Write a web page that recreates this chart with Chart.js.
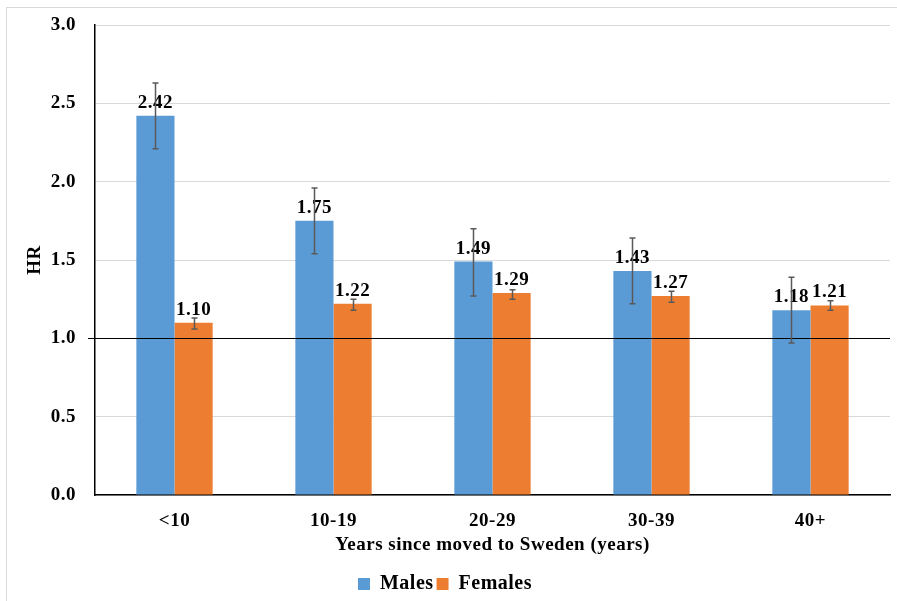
<!DOCTYPE html>
<html><head><meta charset="utf-8">
<script src="https://cdn.jsdelivr.net/npm/chart.js@4"></script>
<style>html,body{margin:0;padding:0;background:#fff}#wrap{width:897px;height:601px}</style>
</head><body><div id="wrap"><canvas id="c" width="897" height="601"></canvas></div>
<script>
const categories = ['<10', '10-19', '20-29', '30-39', '40+'];
const males = [2.42, 1.75, 1.49, 1.43, 1.18];
const females = [1.10, 1.22, 1.29, 1.27, 1.21];
const malesLow = [2.21, 1.54, 1.27, 1.22, 0.97];
const malesHigh = [2.63, 1.96, 1.70, 1.64, 1.39];
const femalesLow = [1.06, 1.18, 1.25, 1.23, 1.18];
const femalesHigh = [1.13, 1.25, 1.31, 1.30, 1.24];
const yTicks = [0, 0.5, 1.0, 1.5, 2.0, 2.5, 3.0];
const referenceValue = 1.0;

const FONT = "'Liberation Serif', 'Times New Roman', serif";
const SPACING = '0.5px';
const errs = [[malesLow, malesHigh], [femalesLow, femalesHigh]];

const extras = {
  id: 'extras',
  beforeUpdate(chart) { chart.ctx.letterSpacing = SPACING; },
  beforeLayout(chart) { chart.ctx.letterSpacing = SPACING; },
  beforeDraw(chart) {
    const ctx = chart.ctx;
    ctx.letterSpacing = SPACING;
    ctx.save();
    ctx.strokeStyle = '#d9d9d9';
    ctx.lineWidth = 1;
    ctx.strokeRect(6.5, 7.5, 2000, 2000);
    ctx.restore();
  },
  afterDatasetsDraw(chart) {
    const ctx = chart.ctx;
    const y = chart.scales.y;
    const area = chart.chartArea;
    ctx.save();
    const ry = Math.round(y.getPixelForValue(referenceValue)) + 0.5;
    ctx.strokeStyle = '#000';
    ctx.lineWidth = 1;
    ctx.beginPath();
    ctx.moveTo(area.left - 7, ry);
    ctx.lineTo(area.right, ry);
    ctx.stroke();
    ctx.font = "bold 19px " + FONT;
    ctx.fillStyle = '#000';
    ctx.textAlign = 'center';
    ctx.textBaseline = 'alphabetic';
    chart.data.datasets.forEach((ds, di) => {
      const meta = chart.getDatasetMeta(di);
      meta.data.forEach((el, i) => {
        ctx.fillText(ds.data[i].toFixed(2), el.x, el.y - 8);
      });
    });
    ctx.strokeStyle = '#595959';
    ctx.lineWidth = 1.5;
    chart.data.datasets.forEach((ds, di) => {
      const meta = chart.getDatasetMeta(di);
      meta.data.forEach((el, i) => {
        const lo = y.getPixelForValue(errs[di][0][i]);
        const hi = y.getPixelForValue(errs[di][1][i]);
        const x = Math.round(el.x) + 0.5;
        ctx.beginPath();
        ctx.moveTo(x, lo); ctx.lineTo(x, hi);
        ctx.moveTo(x - 3, lo); ctx.lineTo(x + 3, lo);
        ctx.moveTo(x - 3, hi); ctx.lineTo(x + 3, hi);
        ctx.stroke();
      });
    });
    ctx.restore();
  }
};

new Chart(document.getElementById('c'), {
  type: 'bar',
  data: {
    labels: categories,
    datasets: [
      { label: 'Males', data: males, backgroundColor: '#5B9BD5', categoryPercentage: 0.48, barPercentage: 1.0 },
      { label: 'Females', data: females, backgroundColor: '#ED7D31', categoryPercentage: 0.48, barPercentage: 1.0 }
    ]
  },
  options: {
    responsive: false,
    animation: false,
    devicePixelRatio: 1,
    layout: { padding: { top: 25, right: 7, left: 0, bottom: -3 } },
    plugins: {
      legend: {
        position: 'bottom',
        labels: {
          font: { family: FONT, size: 20, weight: 'bold' },
          color: '#000',
          boxWidth: 12, boxHeight: 12,
          padding: 3
        }
      },
      tooltip: { enabled: false }
    },
    scales: {
      x: {
        grid: { display: false, drawTicks: false },
        border: { color: '#000', width: 1.5 },
        ticks: { font: { family: FONT, size: 19, weight: 'bold' }, color: '#000', padding: 15 },
        title: { display: true, text: 'Years since moved to Sweden (years)', font: { family: FONT, size: 19, weight: 'bold' }, color: '#000', padding: { top: 0, bottom: 15 } },
        afterFit(s) { s.height = 76; }
      },
      y: {
        min: 0, max: 3,
        afterBuildTicks(s) { s.ticks = yTicks.map(v => ({ value: v })); },
        grid: { drawTicks: true, tickLength: 19, tickColor: 'rgba(0,0,0,0)', color: c => (c.tick && (c.tick.value === 1)) ? '#000' : '#d9d9d9', lineWidth: 1 },
        border: { color: '#000', width: 1.5 },
        ticks: { font: { family: FONT, size: 19, weight: 'bold' }, color: '#000', padding: 0, callback: v => Number(v).toFixed(1) },
        title: { display: true, text: 'HR', font: { family: FONT, size: 19, weight: 'bold' }, color: '#000', padding: { top: 24, bottom: 0 } },
        afterFit(s) { s.width = 95; }
      }
    }
  },
  plugins: [extras]
});
</script>
</body></html>
